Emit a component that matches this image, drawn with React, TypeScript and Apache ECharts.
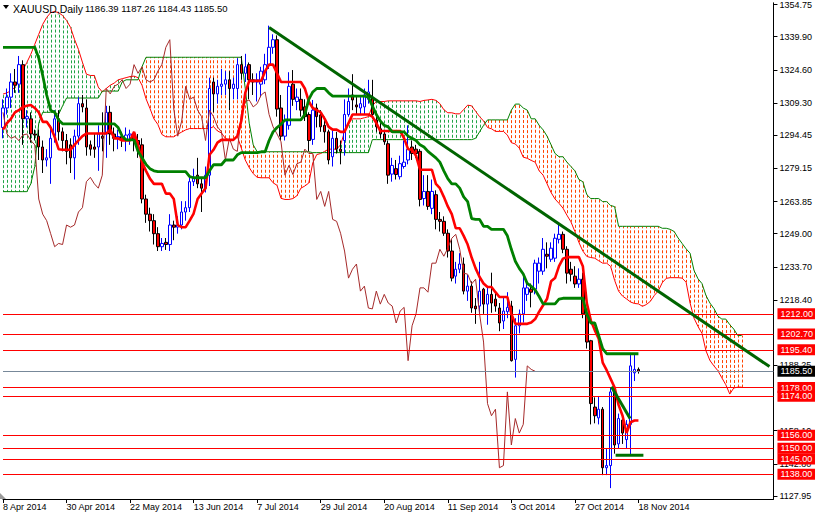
import React, { useEffect, useRef } from "react";
import * as echarts from "echarts";

const FONT = "'Liberation Sans', Arial, sans-serif";

// ---- axis labels ----
const dateLabels = ["8 Apr 2014", "30 Apr 2014", "22 May 2014", "13 Jun 2014", "7 Jul 2014", "29 Jul 2014", "20 Aug 2014", "11 Sep 2014", "3 Oct 2014", "27 Oct 2014", "18 Nov 2014"];
const dateLabelStep = 16;
const priceTicks = [1354.75, 1339.9, 1324.6, 1309.3, 1294.45, 1279.15, 1263.85, 1249.0, 1233.7, 1218.4, 1188.25, 1158.1, 1142.8, 1127.95];

// ---- daily candles (bar 0 = 8 Apr 2014, bar 160 = 18 Nov 2014) ----
const opens = [
  1298, 1307, 1312, 1319, 1318, 1327, 1302, 1302, 1295, 1294,
  1289, 1283, 1284, 1294, 1302, 1296, 1292, 1290, 1284, 1294,
  1309, 1307, 1290, 1289, 1289, 1294, 1295, 1305, 1295, 1293,
  1293.8, 1292, 1294.5, 1295, 1292, 1290, 1265, 1258, 1255, 1249,
  1243, 1245, 1244, 1253, 1252, 1253, 1259, 1261, 1273, 1276,
  1272, 1270, 1276, 1319, 1313.5, 1317, 1318, 1320, 1316, 1316,
  1327, 1323, 1327, 1320, 1319, 1318, 1320, 1327, 1335, 1338.5,
  1307, 1294, 1299, 1318, 1310, 1311, 1307.5, 1304, 1292.5, 1307,
  1303.8, 1299, 1296, 1284.5, 1293, 1288, 1292, 1304, 1313, 1308.4,
  1307, 1307.5, 1311, 1312, 1301.5, 1297.4, 1295, 1290.5, 1276.5, 1279,
  1275.3, 1280, 1283, 1289, 1288, 1287, 1265.2, 1268.5, 1260.7, 1267,
  1255.6, 1254.7, 1249.2, 1241, 1229.4, 1232.6, 1235, 1222.5, 1224.8, 1215.6,
  1215.6, 1223.4, 1216.5, 1221, 1218.8, 1214.7, 1208.7, 1213, 1215.6, 1191,
  1206.5, 1212, 1221, 1223.4, 1223.4, 1231.7, 1231.7, 1239.5, 1237.2, 1237.7,
  1246.4, 1248.7, 1241.8, 1232.6, 1229.4, 1225.8, 1228, 1212, 1199.6, 1169,
  1164, 1168, 1141, 1142, 1176, 1152, 1163, 1154, 1161, 1184.8,
  1186.39,
];
const highs = [
  1311, 1316, 1323, 1325, 1331, 1329, 1306, 1305, 1297, 1297,
  1292, 1288, 1299, 1306, 1306, 1298, 1295, 1293, 1297, 1312,
  1313, 1311, 1292, 1295, 1299, 1305, 1308, 1308, 1298, 1297,
  1296, 1298, 1297, 1296, 1295, 1293, 1267, 1261, 1258, 1252,
  1247, 1247, 1258, 1255, 1257, 1264, 1264, 1275, 1279, 1284,
  1275, 1280, 1321, 1321, 1320, 1325, 1324, 1324, 1321, 1330,
  1331, 1332, 1328, 1323, 1323, 1326, 1332, 1345, 1341, 1340.5,
  1313, 1304, 1323.5, 1324.5, 1316, 1316, 1311, 1305, 1310.7, 1309,
  1306, 1303, 1297, 1297, 1296, 1292, 1311, 1316, 1322.6, 1313,
  1312, 1316, 1320, 1320, 1305, 1300, 1297, 1292, 1284, 1283,
  1285, 1292, 1299, 1292, 1290, 1288, 1276, 1276, 1274, 1269,
  1259, 1257, 1251, 1246.4, 1236, 1240, 1238, 1230, 1227, 1219.3,
  1236, 1224, 1224, 1231, 1222, 1217, 1220, 1222, 1218, 1210,
  1214, 1229.5, 1226, 1226, 1237, 1238, 1247, 1245, 1245, 1249,
  1253.3, 1250, 1243.2, 1236, 1234, 1233, 1231, 1214, 1200, 1173.5,
  1174, 1169, 1150, 1178, 1177, 1166, 1164, 1163, 1194, 1193,
  1187.26,
];
const lows = [
  1293, 1304, 1307, 1314, 1314, 1290, 1298, 1291, 1292, 1283,
  1277, 1280, 1272, 1291, 1292, 1287, 1281, 1277, 1274, 1290,
  1305, 1285, 1285, 1284, 1278, 1287, 1284, 1290, 1287, 1288,
  1289, 1287, 1290, 1287, 1284, 1263, 1254, 1250, 1244, 1241,
  1241, 1241.5, 1241, 1246, 1249, 1251, 1255, 1259, 1271, 1270,
  1259, 1268, 1271, 1305, 1309, 1313, 1313, 1306, 1311, 1311,
  1320, 1319, 1311, 1313, 1310, 1312, 1318, 1325, 1332, 1303,
  1292, 1292, 1297, 1308, 1306, 1303, 1301, 1287, 1290, 1298,
  1296, 1291, 1281, 1280, 1286, 1281, 1285, 1303, 1306, 1304,
  1304, 1304, 1309, 1302, 1296, 1293, 1290, 1272, 1273, 1274,
  1274, 1279, 1281, 1283, 1284, 1261.6, 1262, 1260, 1258, 1251,
  1250, 1248, 1238, 1227, 1226, 1230.8, 1221, 1218, 1212.5, 1207.4,
  1212, 1212, 1207, 1212.5, 1213, 1204, 1205, 1210, 1190, 1182.6,
  1203, 1208, 1218, 1215, 1221, 1226, 1230, 1233, 1236, 1236,
  1244.5, 1240, 1226, 1227, 1224, 1224, 1210, 1196, 1161, 1161.5,
  1161, 1137.6, 1137.6, 1131.6, 1147.5, 1150, 1152, 1150, 1147, 1181,
  1184.43,
];
const closes = [
  1307, 1312, 1319, 1317.5, 1327, 1302, 1303, 1295, 1294.5, 1289,
  1283, 1284, 1293, 1302, 1296, 1292, 1287, 1284, 1294, 1309,
  1307.5, 1289, 1288, 1288, 1295, 1293, 1305, 1295, 1293, 1293.8,
  1292, 1294.5, 1295, 1292, 1290, 1265, 1258, 1255, 1249, 1243,
  1244.5, 1244, 1253, 1252, 1253, 1259, 1261, 1273, 1275, 1272,
  1270, 1276, 1316, 1313.5, 1317, 1318, 1320, 1316, 1318, 1327,
  1323, 1326, 1320, 1319, 1320, 1324, 1327, 1335, 1338.5, 1306.5,
  1294, 1301, 1317, 1311, 1312, 1306, 1303, 1292, 1306, 1303,
  1298.3, 1296, 1283, 1293, 1288, 1287, 1304, 1310, 1310.7, 1307.5,
  1309, 1313, 1314.4, 1304, 1298.3, 1295, 1291.4, 1276, 1280.5, 1276.3,
  1281.3, 1282, 1288, 1286, 1286, 1264.8, 1268.5, 1261.6, 1268.5, 1255.6,
  1254.7, 1249.2, 1241, 1228.5, 1232.6, 1235, 1222.5, 1224.8, 1214.7, 1214.3,
  1222.5, 1216.5, 1221, 1217, 1215.6, 1207.8, 1213.3, 1215, 1190.4, 1206.5,
  1212, 1224, 1224, 1222, 1235.4, 1235.4, 1241.8, 1238.6, 1242.3, 1246.9,
  1248.7, 1241.8, 1230.8, 1230.3, 1225.8, 1228, 1212, 1199, 1170.6, 1165,
  1168, 1141, 1142, 1176, 1151.5, 1163.7, 1157, 1161, 1188, 1186.39,
  1185.5,
];

// ---- Ichimoku lines ----
const tenkan = [
  1297, 1300, 1302, 1305, 1306, 1307.5, 1308, 1308.4, 1307, 1305,
  1300.6, 1300.6, 1298, 1293.7, 1288, 1287.7, 1287.7, 1287.7, 1290, 1292,
  1294, 1295.2, 1295.2, 1295.2, 1295.2, 1295.2, 1295.2, 1297, 1293, 1293,
  1292, 1292, 1292, 1296, 1290, 1282, 1278, 1274.4, 1272, 1272,
  1272, 1267.5, 1267.5, 1265, 1253, 1252, 1252, 1255, 1258.3, 1265,
  1267.5, 1270, 1285.4, 1287.7, 1291, 1292.3, 1292.3, 1292.3, 1292.3, 1294,
  1301, 1314, 1319.5, 1319.5, 1319.5, 1319.5, 1324, 1327, 1327, 1323,
  1319, 1319, 1319, 1319, 1319, 1319, 1316, 1310, 1307, 1306,
  1305, 1302, 1298.3, 1297, 1297, 1296, 1296, 1300, 1304, 1304,
  1304, 1304, 1304, 1303, 1300, 1296.4, 1296.4, 1296.4, 1296.4, 1296.4,
  1296.4, 1293, 1288, 1287.7, 1285, 1278.5, 1278.5, 1278.5, 1278.5, 1272,
  1270, 1266, 1261.6, 1258, 1251.5, 1251.5, 1248, 1244, 1238, 1233,
  1229, 1226, 1224.4, 1224.4, 1222, 1219.8, 1219.8, 1219.8, 1212, 1207.4,
  1207.4, 1207.4, 1207.4, 1208, 1209.6, 1213, 1216, 1219, 1227, 1228.5,
  1234, 1237.5, 1238.2, 1238.2, 1238.2, 1238.2, 1234, 1217, 1209, 1204.5,
  1200.5, 1189.5, 1186, 1182, 1178, 1170, 1165, 1157, 1162, 1162.8,
  1162.8,
];
const kijun = [
  1335, 1335, 1335, 1335, 1335, 1335, 1335, 1335, 1335, 1330,
  1322, 1313, 1306, 1305, 1301.5, 1299.7, 1299.7, 1299.7, 1299.7, 1299.7,
  1299.7, 1299.7, 1299.7, 1299.7, 1299.7, 1299.7, 1299.7, 1299.7, 1299.7, 1298,
  1294, 1292.3, 1292.3, 1292.3, 1287, 1284, 1281, 1279, 1278, 1277.6,
  1277.6, 1277.6, 1277.6, 1277.6, 1277.6, 1277.6, 1277.6, 1275.3, 1274.8, 1274.8,
  1274.8, 1274.8, 1278, 1280.8, 1280.8, 1280.8, 1283, 1283, 1283, 1285.4,
  1286.4, 1286.4, 1286.4, 1286.4, 1286.4, 1286.8, 1286.8, 1292, 1296, 1298,
  1299.5, 1301.5, 1301.5, 1301.5, 1301.5, 1301.5, 1304, 1311, 1314.4, 1316,
  1316, 1316, 1314, 1312.5, 1312.5, 1312.5, 1312.5, 1312.5, 1312.5, 1312.5,
  1312.5, 1312.5, 1312, 1308, 1304, 1301, 1299, 1298.3, 1296, 1296,
  1296, 1296, 1294, 1293, 1292, 1290, 1289, 1287, 1285.5, 1284,
  1282, 1278, 1274.4, 1272, 1272, 1270, 1266, 1263.8, 1256, 1255.6,
  1255.6, 1252.4, 1252.4, 1251, 1251, 1251, 1251, 1248, 1241.8, 1236.3,
  1233, 1230.4, 1226, 1224.8, 1223, 1220, 1216.6, 1216.6, 1216.6, 1216.6,
  1218.8, 1219.2, 1219.2, 1219.2, 1219.2, 1219.2, 1219.2, 1212, 1207.8, 1207.8,
  1202, 1196, 1193.6, 1193.6, 1193.6, 1193.6, 1193.6, 1193.6, 1193.6, 1193.6,
  1193.6,
];
const senkouA = [
  1313.4, 1314, 1315, 1316.6, 1320, 1324.5, 1328, 1331.8, 1336.4, 1341,
  1345.6, 1348.8, 1351, 1351.5, 1351, 1349.7, 1347.4, 1344.2, 1338.7, 1334,
  1328.1, 1322.6, 1322, 1322, 1316.6, 1314.4, 1316, 1317.5, 1318.5, 1320,
  1320.5, 1321, 1321.5, 1321.7, 1321, 1317.5, 1311.3, 1306.8, 1302, 1299.4,
  1294.8, 1293.7, 1293.7, 1293.7, 1294.9, 1295.9, 1296.9, 1297.5, 1297.5, 1297.5,
  1297.5, 1297.5, 1297.5, 1298.4, 1296.4, 1295.5, 1293, 1292.2, 1292.2, 1294,
  1288.5, 1283, 1279.5, 1276.7, 1275, 1274.8, 1274.8, 1274.8, 1272.5, 1271.3,
  1265.3, 1264.8, 1264.8, 1265.2, 1266.5, 1270, 1271, 1272.4, 1281.7, 1285.5,
  1286, 1287, 1288, 1288, 1288, 1290, 1296, 1300, 1302, 1302,
  1302, 1302.5, 1303, 1308, 1310, 1310, 1310, 1310.3, 1310.3, 1310.3,
  1310.3, 1310.3, 1310.3, 1310.3, 1310.3, 1310, 1310.5, 1310.7, 1311, 1310.5,
  1309, 1306.2, 1304.8, 1304.8, 1304.3, 1304.3, 1306.3, 1308.3, 1308, 1305.5,
  1303, 1301, 1298, 1297.4, 1296.2, 1296.2, 1296.2, 1294.5, 1291, 1290.4,
  1288.5, 1284.3, 1283.8, 1282.8, 1282, 1278, 1276, 1272, 1268, 1265,
  1263, 1260.8, 1257.5, 1254.5, 1250, 1245, 1241, 1238.5, 1238, 1237.7,
  1236.5, 1235.4, 1235.4, 1233.9, 1227.5, 1222.5, 1220.2, 1218.9, 1217.5, 1216.8,
  1216.6, 1215.5, 1216.3, 1217.8, 1220.5, 1222.6, 1226.4, 1228.4, 1228.7, 1228.7,
  1228.7, 1228.5, 1226.6, 1217, 1210, 1206.2, 1203, 1195, 1190.5, 1188,
  1185.8, 1182.5, 1179.3, 1175, 1177.8, 1178.2, 1178.2,
];
const senkouB = [
  1268.4, 1268.4, 1268.4, 1268.4, 1268.4, 1268.4, 1268.4, 1272, 1280, 1300,
  1305, 1305, 1305, 1305, 1304, 1308, 1311.6, 1311.6, 1311.6, 1311.6,
  1311.6, 1311.6, 1311.6, 1311.6, 1311.6, 1314.8, 1314.8, 1314.8, 1314.8, 1314.8,
  1319, 1320, 1320, 1320, 1320, 1326, 1330.4, 1330.4, 1330.4, 1330.4,
  1330.4, 1330.4, 1330.4, 1330.4, 1330.4, 1330.4, 1330.4, 1330.4, 1330.4, 1330.4,
  1330.4, 1330.4, 1330.4, 1330.4, 1330.4, 1330.4, 1330.4, 1330.4, 1330.4, 1330.4,
  1330.4, 1316, 1300, 1290, 1286.8, 1286.8, 1286.8, 1286.8, 1286.8, 1286.8,
  1286.8, 1286.8, 1286.8, 1286.8, 1286.8, 1286.8, 1286.8, 1286.8, 1286.4, 1286.4,
  1286.4, 1286.4, 1286.4, 1286.4, 1286.4, 1286.4, 1286.4, 1286.4, 1286.4, 1286.4,
  1286.4, 1286.4, 1286.4, 1292.4, 1292.4, 1292.4, 1292.4, 1292.4, 1292.4, 1292.4,
  1292.4, 1292.4, 1292.4, 1292.4, 1292.4, 1292.4, 1292.4, 1292.4, 1292.4, 1292.4,
  1292.4, 1292.4, 1292.4, 1292.4, 1292.4, 1292.4, 1292.4, 1292.4, 1292.4, 1293,
  1296, 1299, 1301.5, 1301.5, 1301.5, 1301.5, 1301.5, 1301.5, 1306, 1308.8,
  1308.8, 1307, 1306, 1302, 1302, 1299, 1296.9, 1294, 1290, 1286,
  1284.5, 1284.5, 1282, 1280, 1278, 1274, 1273, 1267, 1265.2, 1265.2,
  1265.2, 1263.8, 1263.8, 1262, 1261.5, 1252.4, 1252.4, 1252.4, 1252.4, 1252.4,
  1252.4, 1252.4, 1252.4, 1252.4, 1252.4, 1252.4, 1251.5, 1251.5, 1251, 1250,
  1247, 1244.5, 1242, 1240, 1232, 1228.2, 1226, 1220.5, 1217, 1214.5,
  1211, 1209.6, 1209.6, 1207, 1205, 1202, 1202,
];
const chikouShift = 26;

// ---- drawn objects (bar index, price) ----
const trendLine = [[67, 1344.1], [193, 1187.7]];
const triangleSide = [[153.2, 1178.4], [157.9, 1163.7]];
const triangleBase = [[154.25, 1146.8], [161.25, 1146.8]];
const levels = [1212.0, 1202.7, 1195.4, 1178.0, 1174.0, 1156.0, 1150.0, 1145.0, 1138.0];
const bidPrice = 1185.5;
const headerSymbol = "XAUUSD,Daily";
const headerOhlc = "1186.39 1187.26 1184.43 1185.50";

const KUMO_UP = "#22a447";
const KUMO_DOWN = "#ff4500";

function indexed(arr: number[]) {
  return arr.map((v, i) => [i, v]);
}

function buildOption() {
  const candles = opens.map((o, i) => [i, o, closes[i], lows[i], highs[i]]);
  const cloud = senkouA.map((a, i) => [i, a, senkouB[i]]);
  const chikou = closes.slice(chikouShift).map((c, j) => [j, c]);
  const labelTicks = dateLabels.map((_, k) => k * dateLabelStep);

  const redBox = {
    show: true,
    position: "end",
    distance: 4,
    formatter: (p: any) => Number(p.value).toFixed(2),
    color: "#ffffff",
    backgroundColor: "#ff0000",
    fontSize: 9,
    fontFamily: FONT,
    lineHeight: 10,
    padding: [1, 4, 0, 3],
  };

  return {
    animation: false,
    backgroundColor: "#ffffff",
    textStyle: { fontFamily: FONT },
    grid: { left: 0, right: 39, top: 0, bottom: 17, containLabel: false },
    xAxis: {
      type: "value",
      min: 0,
      max: 194,
      axisLine: { show: true, onZero: false, lineStyle: { color: "#000000", width: 1 } },
      axisTick: { show: true, length: 4, customValues: labelTicks, lineStyle: { color: "#000000" } },
      axisLabel: {
        show: true,
        customValues: labelTicks,
        formatter: (v: number) => dateLabels[Math.round(v / dateLabelStep)] ?? "",
        align: "left",
        fontSize: 9,
        fontFamily: FONT,
        color: "#000000",
        margin: 3,
        showMinLabel: true,
        showMaxLabel: true,
      },
      splitLine: { show: false },
    },
    yAxis: {
      type: "value",
      position: "right",
      min: 1126.58,
      max: 1355.53,
      axisLine: { show: true, onZero: false, lineStyle: { color: "#000000", width: 1 } },
      axisTick: { show: true, length: 4, customValues: priceTicks, lineStyle: { color: "#000000" } },
      axisLabel: {
        show: true,
        customValues: priceTicks,
        formatter: (v: number) => v.toFixed(2),
        fontSize: 9,
        fontFamily: FONT,
        color: "#000000",
        margin: 6,
        showMinLabel: true,
        showMaxLabel: true,
      },
      splitLine: { show: false },
    },
    series: [
      {
        name: "kumo",
        type: "custom",
        data: cloud,
        encode: { x: 0, y: [1, 2] },
        clip: true,
        z: 1,
        silent: true,
        renderItem: (_params: any, api: any) => {
          const i = api.value(0);
          const a = api.value(1);
          const b = api.value(2);
          const pa = api.coord([i, a]);
          const pb = api.coord([i, b]);
          const top = Math.min(pa[1], pb[1]);
          const bot = Math.max(pa[1], pb[1]);
          const x = Math.round(pa[0]) + 0.5;
          return {
            type: "line",
            shape: { x1: x, y1: top, x2: x, y2: bot },
            style: {
              stroke: a >= b ? KUMO_UP : KUMO_DOWN,
              lineWidth: 1,
              lineDash: [3, 2],
              lineDashOffset: top % 5,
            },
          };
        },
      },
      {
        name: "Senkou A",
        type: "line",
        data: indexed(senkouA),
        showSymbol: false,
        z: 2,
        lineStyle: { color: "#ff0000", width: 1 },
        silent: true,
      },
      {
        name: "Senkou B",
        type: "line",
        data: indexed(senkouB),
        showSymbol: false,
        z: 2,
        lineStyle: { color: "#008000", width: 1 },
        silent: true,
      },
      {
        name: "XAUUSD",
        type: "candlestick",
        data: candles,
        encode: { x: 0, y: [1, 2, 3, 4] },
        barWidth: 3,
        z: 3,
        itemStyle: {
          color: "#ffffff",
          color0: "#ff0000",
          borderColor: "#0000ff",
          borderColor0: "#000000",
          borderColorDoji: "#000000",
          borderWidth: 1,
        },
        silent: true,
      },
      {
        name: "Chikou",
        type: "line",
        data: chikou,
        showSymbol: false,
        z: 4,
        lineStyle: { color: "#a52a2a", width: 1 },
        silent: true,
      },
      {
        name: "Tenkan",
        type: "line",
        data: indexed(tenkan),
        showSymbol: false,
        z: 5,
        lineStyle: { color: "#ff0000", width: 2.6 },
        silent: true,
      },
      {
        name: "Kijun",
        type: "line",
        data: indexed(kijun),
        showSymbol: false,
        z: 6,
        lineStyle: { color: "#008000", width: 2.8 },
        silent: true,
      },
      {
        name: "Triangle side",
        type: "line",
        data: triangleSide,
        showSymbol: false,
        z: 7,
        lineStyle: { color: "#007000", width: 3 },
        silent: true,
      },
      {
        name: "Triangle base",
        type: "line",
        data: triangleBase,
        showSymbol: false,
        z: 7,
        lineStyle: { color: "#007000", width: 3 },
        silent: true,
      },
      {
        name: "Trend",
        type: "line",
        data: trendLine,
        showSymbol: false,
        z: 8,
        lineStyle: { color: "#006400", width: 3 },
        silent: true,
        markLine: {
          silent: true,
          symbol: ["none", "none"],
          animation: false,
          precision: 2,
          data: [
            ...levels.map((v) => ({
              yAxis: v,
              lineStyle: { color: "#ff0000", width: 1, type: "solid" },
              label: redBox,
            })),
            {
              yAxis: bidPrice,
              lineStyle: { color: "#778899", width: 1, type: "solid" },
              label: { ...redBox, backgroundColor: "#000000" },
            },
          ],
        },
      },
    ],
    graphic: [
      {
        type: "polygon",
        z: 100,
        shape: { points: [[3, 5], [9, 5], [6, 9]] },
        style: { fill: "#000000" },
      },
      {
        type: "text",
        z: 100,
        x: 13,
        y: 3,
        style: { text: headerSymbol, fontSize: 10.5, fontFamily: FONT, fill: "#000000" },
      },
      {
        type: "text",
        z: 100,
        x: 85,
        y: 3.5,
        style: { text: headerOhlc, fontSize: 9.5, fontFamily: FONT, fill: "#000000" },
      },
      {
        type: "polygon",
        z: 100,
        shape: { points: [[0, 493], [0, 499], [6, 499]] },
        style: { fill: "#9a9a9a" },
      },
    ],
  };
}

export default function App() {
  const ref = useRef<HTMLDivElement>(null);
  useEffect(() => {
    if (!ref.current) return;
    const chart = echarts.init(ref.current, undefined, { renderer: "svg" });
    chart.setOption(buildOption() as any);
    return () => {
      chart.dispose();
    };
  }, []);
  return (
    <div
      ref={ref}
      style={{ position: "absolute", left: 0, top: 0, width: 815, height: 516, background: "#ffffff" }}
    />
  );
}
